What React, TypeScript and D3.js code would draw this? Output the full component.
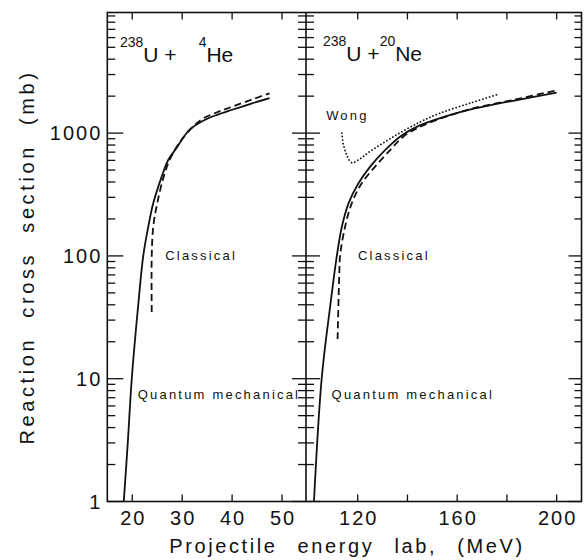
import * as d3 from "d3";

// (energy MeV, cross section mb)
const heQuantum: [number, number][] = [
  [18.3, 1], [19.1, 3], [19.9, 10], [21.2, 40], [22.2, 100], [23.2, 172],
  [24.2, 268], [25.9, 442], [27.2, 604], [28.9, 760], [30.7, 980], [32, 1110],
  [34.5, 1280], [37, 1410], [40, 1550], [44, 1750], [47.5, 1930],
];
const heClassical: [number, number][] = [
  [23.9, 35], [23.9, 100], [24.2, 172], [25.0, 268], [26.3, 442], [27.6, 620],
  [29.5, 840], [31.5, 1060], [34, 1300], [37, 1480], [40, 1640], [44, 1880],
  [47.5, 2110],
];
const neQuantum: [number, number][] = [
  [102.4, 1], [105.5, 10], [109, 40], [111.6, 100], [113.6, 172], [116.3, 268],
  [120.3, 390], [125, 534], [131, 727], [137, 935], [143.7, 1125], [155, 1360],
  [165, 1550], [184, 1860], [200, 2140],
];
const neClassical: [number, number][] = [
  [111.9, 21], [112.6, 73], [112.9, 100], [114.9, 172], [117.6, 268], [121.6, 390],
  [127, 534], [133, 727], [138.3, 935], [146, 1150], [165, 1560], [184, 1890],
  [200, 2230],
];
const neWong: [number, number][] = [
  [113.6, 1000], [114.3, 800], [115.6, 660], [117.6, 575], [120.5, 610], [125, 710],
  [134.4, 935], [145, 1230], [153, 1450], [165, 1750], [176.5, 2070],
];

const heTicks = [20, 30, 40, 50];
const neTicks = [120, 140, 160, 180, 200];
const neTickLabels = [120, 160, 200];
const yTickLabels = [1, 10, 100, 1000];

const heNotes = [
  { text: "Classical", e: 26.6, mb: 100 },
  { text: "Quantum mechanical", e: 21.1, mb: 7.4 },
];
const neNotes = [
  { text: "Wong", e: 107.3, mb: 1400 },
  { text: "Classical", e: 120.1, mb: 100 },
  { text: "Quantum  mechanical", e: 109.5, mb: 7.4 },
];

const W = 585;
const H = 560;
const top = 12.5;
const bottom = 501.5;
const ink = "#111";
const font = "'Liberation Sans', Arial, sans-serif";

const y = d3.scaleLog().domain([1, 9600]).range([bottom, top]);
const xHe = d3.scaleLinear().domain([15, 54.8]).range([107.3, 306]);
const xNe = d3.scaleLinear().domain([99.2, 210]).range([306, 581.5]);

function linePath(x: d3.ScaleLinear<number, number>, pts: [number, number][]) {
  return (
    d3
      .line<[number, number]>()
      .x(d => x(d[0]))
      .y(d => y(d[1]))
      .curve(d3.curveCatmullRom.alpha(0.5))(pts) || ""
  );
}

export default function App() {
  const yTicks = y.ticks();
  const isMajor = (v: number) => Math.abs(Math.log10(v) - Math.round(Math.log10(v))) < 1e-6;
  const xL = xHe.range()[0];
  const xM = xHe.range()[1];
  const xR = xNe.range()[1];

  const noteStyle = {
    fontFamily: font,
    fontSize: 13,
    letterSpacing: 2.2,
    fill: ink,
  };

  return (
    <svg
      width={W}
      height={H}
      style={{ position: "absolute", left: 0, top: 0, background: "#fff" }}
    >
      {/* frame */}
      <g stroke={ink} strokeWidth={1.6} fill="none">
        <rect x={xL} y={top} width={xR - xL} height={bottom - top} />
        <line x1={xM} x2={xM} y1={top} y2={bottom} />
      </g>

      {/* ticks */}
      <g stroke={ink} strokeWidth={1.3}>
        {yTicks.map(v => {
          const yy = y(v);
          const maj = isMajor(v);
          return (
            <g key={v}>
              <line x1={xL} x2={xL + (maj ? 16 : 8)} y1={yy} y2={yy} />
              <line x1={xM - (maj ? 14 : 8)} x2={xM + (maj ? 14 : 8)} y1={yy} y2={yy} />
              <line x1={xR} x2={xR - (maj ? 13 : 7)} y1={yy} y2={yy} />
            </g>
          );
        })}
        {heTicks.map(v => (
          <g key={"he" + v}>
            <line x1={xHe(v)} x2={xHe(v)} y1={bottom} y2={bottom - 7} />
            <line x1={xHe(v)} x2={xHe(v)} y1={top} y2={top + 7} />
          </g>
        ))}
        {neTicks.map(v => (
          <g key={"ne" + v}>
            <line x1={xNe(v)} x2={xNe(v)} y1={bottom} y2={bottom - 7} />
            <line x1={xNe(v)} x2={xNe(v)} y1={top} y2={top + 7} />
          </g>
        ))}
      </g>

      {/* tick labels */}
      <g fontFamily={font} fontSize={20} fill={ink} letterSpacing={2}>
        {yTickLabels.map(v => (
          <text key={v} x={xL - 5} y={y(v)} textAnchor="end" dominantBaseline="central">
            {v}
          </text>
        ))}
        {heTicks.map(v => (
          <text key={v} x={xHe(v) + 1} y={bottom + 23} textAnchor="middle">
            {v}
          </text>
        ))}
        {neTickLabels.map(v => (
          <text key={v} x={xNe(v) + 1} y={bottom + 23} textAnchor="middle">
            {v}
          </text>
        ))}
      </g>

      {/* axis titles */}
      <text
        x={347}
        y={553}
        textAnchor="middle"
        fontFamily={font}
        fontSize={20}
        letterSpacing={2.6}
        wordSpacing={12}
        fill={ink}
      >
        Projectile energy lab, (MeV)
      </text>
      <text
        transform={`translate(34,${(top + bottom) / 2}) rotate(-90)`}
        textAnchor="middle"
        fontFamily={font}
        fontSize={20}
        letterSpacing={3.6}
        wordSpacing={10}
        fill={ink}
      >
        Reaction cross section (mb)
      </text>

      {/* curves */}
      <g fill="none" stroke={ink} strokeWidth={1.8}>
        <path d={linePath(xHe, heQuantum)} />
        <path d={linePath(xHe, heClassical)} strokeDasharray="7,4" />
        <path d={linePath(xNe, neQuantum)} />
        <path d={linePath(xNe, neClassical)} strokeDasharray="7,4" />
        <path d={linePath(xNe, neWong)} strokeDasharray="0.1,3.4" strokeLinecap="round" />
      </g>

      {/* annotations */}
      {heNotes.map(n => (
        <text key={n.text} x={xHe(n.e)} y={y(n.mb)} dominantBaseline="central" style={noteStyle}>
          {n.text}
        </text>
      ))}
      {neNotes.map(n => (
        <text key={n.text} x={xNe(n.e)} y={y(n.mb)} dominantBaseline="central" style={noteStyle}>
          {n.text}
        </text>
      ))}

      {/* panel titles */}
      <text x={120} y={62} fontFamily={font} fontSize={21} fill={ink}>
        <tspan fontSize={14} dy={-15}>238</tspan>
        <tspan dy={15}>U +</tspan>
        <tspan fontSize={14} dx={22} dy={-15}>4</tspan>
        <tspan dy={15}>He</tspan>
      </text>
      <text x={323} y={61} fontFamily={font} fontSize={21} fill={ink}>
        <tspan fontSize={14} dy={-15}>238</tspan>
        <tspan dy={15}>U +</tspan>
        <tspan fontSize={14} dx={0} dy={-15}>20</tspan>
        <tspan dy={15}>Ne</tspan>
      </text>
    </svg>
  );
}
